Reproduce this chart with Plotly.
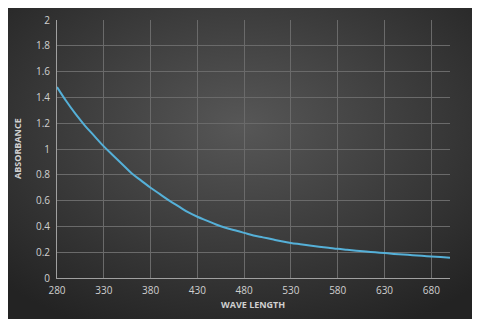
import base64
import plotly.graph_objects as go

# Absorbance readings
wavelength = list(range(280, 701, 10))
absorbance = [1.48, 1.37, 1.27, 1.18, 1.10, 1.02, 0.95, 0.88, 0.81, 0.755,
              0.70, 0.65, 0.60, 0.555, 0.51, 0.475, 0.445, 0.415, 0.39, 0.37,
              0.35, 0.33, 0.315, 0.30, 0.285, 0.272, 0.262, 0.252, 0.243, 0.235,
              0.226, 0.219, 0.212, 0.205, 0.199, 0.193, 0.187, 0.182, 0.177, 0.172,
              0.167, 0.162, 0.157]

x_ticks = [280, 330, 380, 430, 480, 530, 580, 630, 680]
y_ticks = [0, 0.2, 0.4, 0.6, 0.8, 1, 1.2, 1.4, 1.6, 1.8, 2]

W, H = 480, 324
# page body adds an 8px offset, so positions below are shifted by it
OX, OY = 8, 8

# dark radial-gradient backdrop (Excel-style chart area)
svg = ("<svg xmlns='http://www.w3.org/2000/svg' width='467' height='312'>"
       "<defs><radialGradient id='g' cx='50%' cy='38%' r='72%'>"
       "<stop offset='0' stop-color='#575757'/><stop offset='1' stop-color='#232323'/>"
       "</radialGradient></defs><rect width='100%' height='100%' fill='url(#g)'/></svg>")
bg = "data:image/svg+xml;base64," + base64.b64encode(svg.encode()).decode()

fig = go.Figure()
fig.add_trace(go.Scatter(x=wavelength, y=absorbance, mode='lines',
                         line=dict(color='#55b0d8', width=2, shape='spline'),
                         showlegend=False))

tick_font = dict(family='Open Sans', size=10, color='#d0d0d0')
fig.update_layout(
    width=W, height=H,
    margin=dict(l=0, r=0, t=0, b=0, autoexpand=False),
    paper_bgcolor='white',
    plot_bgcolor='rgba(0,0,0,0)',
    images=[dict(source=bg, xref='paper', yref='paper',
                 x=(8 - OX) / W, y=1 - (7 - OY) / H, sizex=467 / W, sizey=312 / H,
                 xanchor='left', yanchor='top', sizing='stretch', layer='below')],
    xaxis=dict(domain=[(57 - OX) / W, (450 - OX) / W], range=[280, 700], automargin=False,
               tickvals=x_ticks, ticks='', tickfont=tick_font,
               showgrid=True, gridcolor='#6a6a6a', gridwidth=1,
               showline=True, linecolor='#a0a0a0', linewidth=1,
               zeroline=False, fixedrange=True, ticklabelstandoff=3),
    yaxis=dict(domain=[1 - (278 - OY) / H, 1 - (20 - OY) / H], range=[0, 2], automargin=False,
               tickvals=y_ticks, ticks='', tickfont=tick_font,
               showgrid=True, gridcolor='#6a6a6a', gridwidth=1,
               showline=True, linecolor='#a0a0a0', linewidth=1,
               zeroline=False, fixedrange=True, ticklabelstandoff=4),
    annotations=[
        dict(text='<b>WAVE LENGTH</b>', xref='paper', yref='paper',
             x=(253 - OX) / W, y=1 - (304 - OY) / H, showarrow=False,
             xanchor='center', yanchor='middle',
             font=dict(family='Open Sans', size=9, color='#d0d0d0')),
        dict(text='<b>ABSORBANCE</b>', xref='paper', yref='paper',
             x=(18 - OX) / W, y=1 - (149 - OY) / H, showarrow=False, textangle=-90,
             xanchor='center', yanchor='middle',
             font=dict(family='Open Sans', size=9, color='#d0d0d0')),
    ],
)

fig.write_html("out.html")
